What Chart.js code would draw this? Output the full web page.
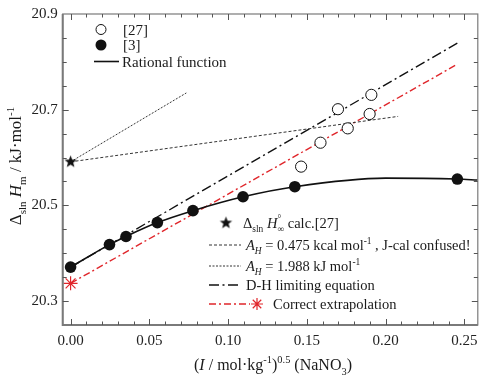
<!DOCTYPE html>
<html>
<head>
<meta charset="utf-8">
<script src="https://cdn.jsdelivr.net/npm/chart.js@4"></script>
<style>
  html, body { margin: 0; padding: 0; background: #fff; }
  canvas { display: block; }
</style>
</head>
<body>
<canvas id="c" width="486" height="376"></canvas>
<script>
// values
const open27X = [0.1464, 0.1587, 0.1698, 0.1760, 0.1899, 0.1910];
const open27Y = [20.581, 20.631, 20.701, 20.661, 20.691, 20.731];

const filled3X = [0.000, 0.0247, 0.0352, 0.0551, 0.0777, 0.1095, 0.1424, 0.2456];
const filled3Y = [20.371, 20.418, 20.435, 20.464, 20.489, 20.518, 20.539, 20.555];

// rational function curve
const rationalX = [0.000, 0.0247, 0.0352, 0.0551, 0.0777, 0.1095, 0.1424, 0.200, 0.2456, 0.2586];
const rationalY = [20.371, 20.418, 20.435, 20.464, 20.489, 20.518, 20.539, 20.557, 20.555, 20.553];

const calcX = [0];
const calcY = [20.591];

const ah0475X = [0, 0.208];
const ah0475Y = [20.591, 20.686];

const ah1988X = [0, 0.0735];
const ah1988Y = [20.591, 20.735];

const dhX = [0, 0.2456];
const dhY = [20.371, 20.839];

const correctX = [0, 0.2456];
const correctY = [20.337, 20.795];
const correctPtX = [0];
const correctPtY = [20.337];

const xLabelStep = 0.05;
const yLabelTicks = [20.3, 20.5, 20.7, 20.9];

const SERIF = '"Liberation Serif", "DejaVu Serif", serif';
const RED = '#e0262b';

function pts(xs, ys) {
  return xs.map((x, i) => ({ x: x, y: ys[i] }));
}

function makeStar(r, color) {
  const c = document.createElement('canvas');
  const s = Math.ceil(r * 2 + 2);
  c.width = c.height = s;
  const g = c.getContext('2d');
  g.beginPath();
  for (let i = 0; i < 10; i++) {
    const a = -Math.PI / 2 + i * Math.PI / 5;
    const rr = i % 2 ? r * 0.42 : r;
    g.lineTo(s / 2 + rr * Math.cos(a), s / 2 + rr * Math.sin(a));
  }
  g.closePath();
  g.fillStyle = color;
  g.fill();
  return c;
}
const starImg = makeStar(6.5, '#111');

// rich text: segments {t, it, sub, sup, keep}
function segFont(s, size) {
  const sz = (s.sub || s.sup) ? size * 0.65 : size;
  return (s.it ? 'italic ' : '') + sz + 'px ' + SERIF;
}
function richWidth(ctx, segs, size) {
  let w = 0;
  segs.forEach(s => {
    ctx.font = segFont(s, size);
    if (!s.keep) w += ctx.measureText(s.t).width;
  });
  return w;
}
function drawRich(ctx, x, y, segs, size, align) {
  let cx = x;
  if (align === 'center') cx = x - richWidth(ctx, segs, size) / 2;
  ctx.textAlign = 'left';
  ctx.textBaseline = 'alphabetic';
  segs.forEach(s => {
    ctx.font = segFont(s, size);
    let dy = 0;
    if (s.sub) dy = size * 0.3;
    if (s.sup) dy = -size * 0.42;
    ctx.fillText(s.t, cx, y + dy);
    if (!s.keep) cx += ctx.measureText(s.t).width;
  });
}

function onLabel(v, step, base) {
  const k = (v - base) / step;
  return Math.abs(k - Math.round(k)) < 1e-6;
}

const decor = {
  id: 'decor',
  afterDraw(chart) {
    const { ctx, chartArea: a, scales } = chart;
    const xs = scales.x, ys = scales.y;
    ctx.save();

    // frame
    ctx.strokeStyle = '#7a7a7a';
    ctx.lineWidth = 1.2;
    ctx.strokeRect(a.left, a.top, a.right - a.left, a.bottom - a.top);
    ctx.lineWidth = 2;
    ctx.beginPath();
    ctx.moveTo(a.left, a.top);
    ctx.lineTo(a.left, a.bottom);
    ctx.lineTo(a.right, a.bottom);
    ctx.stroke();

    // inward ticks
    ctx.strokeStyle = '#555';
    ctx.lineWidth = 1;
    ctx.beginPath();
    xs.ticks.forEach(t => {
      if (t.value <= xs.min + 1e-9 || t.value >= xs.max - 1e-9) return;
      const px = Math.round(xs.getPixelForValue(t.value)) + 0.5;
      const len = t.label ? 6 : 3.5;
      ctx.moveTo(px, a.bottom); ctx.lineTo(px, a.bottom - len);
      ctx.moveTo(px, a.top); ctx.lineTo(px, a.top + len);
    });
    ys.ticks.forEach(t => {
      if (t.value <= ys.min + 1e-9 || t.value >= ys.max - 1e-9) return;
      const py = Math.round(ys.getPixelForValue(t.value)) + 0.5;
      const len = t.label ? 6 : 4;
      ctx.moveTo(a.left, py); ctx.lineTo(a.left + len, py);
      ctx.moveTo(a.right, py); ctx.lineTo(a.right - len, py);
    });
    ctx.stroke();

    ctx.fillStyle = '#1a1a1a';

    // axis titles
    drawRich(ctx, 273, 370, [
      { t: '(' }, { t: 'I', it: true }, { t: ' / mol\u00b7kg' }, { t: '-1', sup: true },
      { t: ')' }, { t: '0.5', sup: true }, { t: ' (NaNO' }, { t: '3', sub: true }, { t: ')' }
    ], 16, 'center');

    ctx.save();
    ctx.translate(21, 166);
    ctx.rotate(-Math.PI / 2);
    drawRich(ctx, 0, 0, [
      { t: '\u0394' }, { t: 'sln', sub: true }, { t: ' ' }, { t: 'H', it: true }, { t: 'm', sub: true },
      { t: ' / kJ\u00b7mol' }, { t: '-1', sup: true }
    ], 17, 'center');
    ctx.restore();

    // legend, top left
    ctx.lineWidth = 1;
    ctx.strokeStyle = '#111';
    ctx.fillStyle = '#fff';
    ctx.beginPath(); ctx.arc(101, 29.5, 5, 0, Math.PI * 2); ctx.fill(); ctx.stroke();
    ctx.fillStyle = '#111';
    ctx.beginPath(); ctx.arc(101, 45, 5.5, 0, Math.PI * 2); ctx.fill();
    ctx.lineWidth = 1.6;
    ctx.beginPath(); ctx.moveTo(94, 61.5); ctx.lineTo(119, 61.5); ctx.stroke();
    ctx.fillStyle = '#1a1a1a';
    drawRich(ctx, 123, 34.5, [{ t: '[27]' }], 15);
    drawRich(ctx, 123, 50, [{ t: '[3]' }], 15);
    drawRich(ctx, 122, 66.5, [{ t: 'Rational function' }], 15);

    // legend, bottom right
    const rows = [223, 245, 266, 285, 304];
    ctx.drawImage(starImg, 226 - starImg.width / 2, rows[0] - starImg.height / 2);
    drawRich(ctx, 243, rows[0] + 5, [
      { t: '\u0394' }, { t: 'sln', sub: true }, { t: ' ' }, { t: 'H', it: true }, { t: '\u00b0', sup: true, keep: true },
      { t: '\u221e', sub: true }, { t: ' calc.[27]' }
    ], 14.5);

    function sample(y, dash, color, width, x0, x1) {
      ctx.save();
      ctx.strokeStyle = color;
      ctx.lineWidth = width;
      ctx.setLineDash(dash);
      ctx.beginPath(); ctx.moveTo(x0, y); ctx.lineTo(x1, y); ctx.stroke();
      ctx.restore();
    }
    sample(rows[1], [3, 2], '#333', 1, 209, 241);
    sample(rows[2], [2, 1.5], '#333', 1, 209, 241);
    sample(rows[3], [10, 3.5, 2, 3.5], '#111', 1.4, 209, 241);
    sample(rows[4], [7, 3, 2, 3], RED, 1.4, 209, 250);

    // asterisk in the last legend row
    ctx.save();
    ctx.strokeStyle = RED;
    ctx.lineWidth = 1.2;
    ctx.beginPath();
    for (let i = 0; i < 4; i++) {
      const ang = i * Math.PI / 4;
      ctx.moveTo(257 - 6 * Math.cos(ang), rows[4] - 6 * Math.sin(ang));
      ctx.lineTo(257 + 6 * Math.cos(ang), rows[4] + 6 * Math.sin(ang));
    }
    ctx.stroke();
    ctx.restore();

    ctx.fillStyle = '#1a1a1a';
    drawRich(ctx, 246, rows[1] + 5, [
      { t: 'A', it: true }, { t: 'H', it: true, sub: true }, { t: ' = 0.475 kcal mol' }, { t: '-1', sup: true },
      { t: ' , J-cal confused!' }
    ], 14.5);
    drawRich(ctx, 246, rows[2] + 5, [
      { t: 'A', it: true }, { t: 'H', it: true, sub: true }, { t: ' = 1.988 kJ mol' }, { t: '-1', sup: true }
    ], 14.5);
    drawRich(ctx, 246, rows[3] + 5, [{ t: 'D-H limiting equation' }], 14.5);
    drawRich(ctx, 273, rows[4] + 5, [{ t: 'Correct extrapolation' }], 14.5);

    ctx.restore();
  }
};

function lineSet(label, xs, ys, color, width, dash) {
  return {
    label: label,
    data: pts(xs, ys),
    showLine: true,
    pointRadius: 0,
    borderColor: color,
    borderWidth: width,
    borderDash: dash,
    fill: false
  };
}

new Chart(document.getElementById('c').getContext('2d'), {
  type: 'scatter',
  data: {
    datasets: [
      {
        label: '[27]',
        data: pts(open27X, open27Y),
        pointStyle: 'circle',
        pointRadius: 5.6,
        borderColor: '#111',
        backgroundColor: '#fff',
        borderWidth: 1
      },
      {
        label: '[3]',
        data: pts(filled3X, filled3Y),
        pointStyle: 'circle',
        pointRadius: 5.8,
        borderColor: '#111',
        backgroundColor: '#111',
        borderWidth: 0
      },
      {
        label: 'calc.[27]',
        data: pts(calcX, calcY),
        pointStyle: starImg,
        pointRadius: 6
      },
      {
        label: 'Correct extrapolation point',
        data: pts(correctPtX, correctPtY),
        pointStyle: 'star',
        pointRadius: 7,
        borderColor: RED,
        borderWidth: 1.2
      },
      Object.assign(lineSet('Rational function', rationalX, rationalY, '#111', 1.6, []),
        { cubicInterpolationMode: 'monotone' }),
      lineSet('A_H = 0.475 kcal', ah0475X, ah0475Y, '#333', 1, [3, 2]),
      lineSet('A_H = 1.988 kJ', ah1988X, ah1988Y, '#333', 1, [2, 1.5]),
      lineSet('D-H limiting equation', dhX, dhY, '#111', 1.4, [10, 3.5, 2, 3.5]),
      lineSet('Correct extrapolation', correctX, correctY, RED, 1.4, [7, 3, 2, 3])
    ]
  },
  options: {
    responsive: false,
    animation: false,
    devicePixelRatio: 1,
    layout: { padding: { top: 6.7, right: 4.3, left: 0, bottom: 0 } },
    plugins: {
      legend: { display: false },
      tooltip: { enabled: false }
    },
    scales: {
      x: {
        type: 'linear',
        min: -0.005,
        max: 0.2586,
        afterFit: s => { s.height = 51; },
        border: { display: false },
        grid: { display: false, drawTicks: false },
        ticks: {
          stepSize: 0.01,
          includeBounds: false,
          autoSkip: false,
          maxRotation: 0,
          padding: 7,
          color: '#222',
          font: { family: SERIF, size: 15 },
          callback: v => onLabel(v, xLabelStep, 0) && v > -1e-9 ? Math.abs(v).toFixed(2) : ''
        }
      },
      y: {
        type: 'linear',
        min: 20.25,
        max: 20.9,
        afterFit: s => { s.width = 62.7; },
        border: { display: false },
        grid: { display: false, drawTicks: false },
        ticks: {
          stepSize: 0.05,
          includeBounds: false,
          autoSkip: false,
          padding: 5,
          color: '#222',
          font: { family: SERIF, size: 15 },
          callback: v => yLabelTicks.some(t => Math.abs(t - v) < 1e-6) ? v.toFixed(1) : ''
        }
      }
    }
  },
  plugins: [decor]
});
</script>
</body>
</html>
